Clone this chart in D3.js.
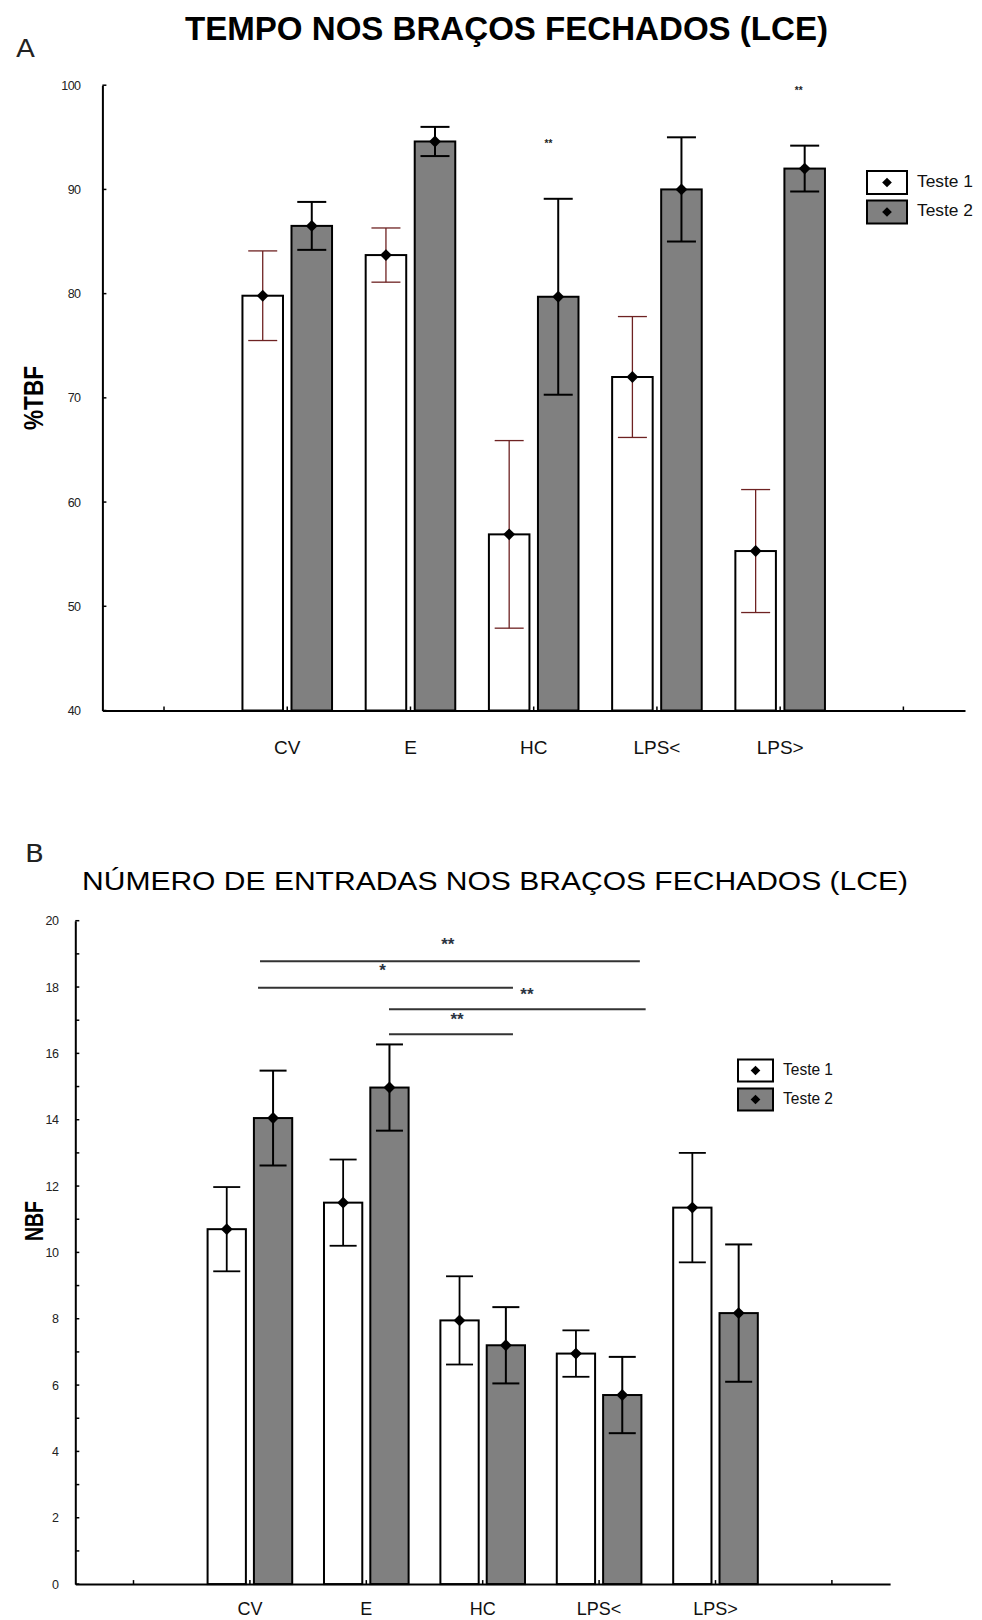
<!DOCTYPE html>
<html>
<head>
<meta charset="utf-8">
<script src="https://cdn.jsdelivr.net/npm/d3@7"></script>
<style>
  html, body { margin: 0; padding: 0; background: #fff; }
  svg { display: block; font-family: "Liberation Sans", Arial, sans-serif; }
</style>
</head>
<body>
<svg id="chart" width="982" height="1620"></svg>
<script>
// ---------------- DATA ----------------
const categories = ["CV", "E", "HC", "LPS<", "LPS>"];
const seriesNames = ["Teste 1", "Teste 2"];

// Panel A: % tempo nos braços fechados
const tbfTeste1 = [79.8, 83.7, 56.9, 72.0, 55.3];
const tbfTeste1Err = [4.3, 2.6, 9.0, 5.8, 5.9];
const tbfTeste2 = [86.5, 94.6, 79.7, 90.0, 92.0];
const tbfTeste2Err = [2.3, 1.4, 9.4, 5.0, 2.2];
const tbfTicks = [40, 50, 60, 70, 80, 90, 100];
// significance marks: [label, category position, value]
const tbfStars = [["**", 3.12, 94.3], ["**", 5.15, 99.4]];

// Panel B: número de entradas nos braços fechados
const nbfTeste1 = [10.7, 11.5, 7.95, 6.95, 11.35];
const nbfTeste1Err = [1.27, 1.3, 1.33, 0.7, 1.65];
const nbfTeste2 = [14.05, 14.97, 7.2, 5.7, 8.17];
const nbfTeste2Err = [1.43, 1.3, 1.15, 1.15, 2.07];
const nbfTicks = [0, 2, 4, 6, 8, 10, 12, 14, 16, 18, 20];
// comparison brackets: [x1 position, x2 position, value, label, labelX position, labelY value]
const nbfBrackets = [
  [1.087, 4.35, 18.78, "**", 2.70, 19.25],
  [1.07, 3.26, 17.98, "*", 2.14, 18.47],
  [2.195, 4.40, 17.33, "**", 3.38, 17.73],
  [2.195, 3.26, 16.58, "**", 2.78, 17.0]
];

// ---------------- DRAW ----------------
const svg = d3.select("#chart");

function panel(cfg) {
  const g = svg.append("g");
  const x = d3.scaleLinear().domain([-0.5, 6.5]).range(cfg.xRange);
  const y = d3.scaleLinear().domain(cfg.yDomain).range(cfg.yRange);
  const step = x(1) - x(0);
  const bw = 0.329 * step, gap = 0.069 * step;

  // titles
  g.append("text").attr("x", cfg.letterX).attr("y", cfg.letterY)
    .attr("font-size", 25).attr("fill", "#222")
    .style("font-family", "'DejaVu Sans', sans-serif")
    .attr("textLength", 19).attr("lengthAdjust", "spacingAndGlyphs")
    .text(cfg.letter);
  g.append("text").attr("x", cfg.titleX).attr("y", cfg.titleY)
    .attr("font-size", cfg.titleSize).attr("font-weight", cfg.titleWeight)
    .attr("textLength", cfg.titleLen).attr("lengthAdjust", "spacingAndGlyphs")
    .attr("fill", "#000").text(cfg.title);

  // bars
  const series = [
    {vals: cfg.s1, err: cfg.e1, fill: "#ffffff", errColor: cfg.err1Color, errW: cfg.err1W, off: -(gap / 2 + bw)},
    {vals: cfg.s2, err: cfg.e2, fill: "#808080", errColor: "#000", errW: cfg.err2W, off: gap / 2}
  ];
  const y0 = y(cfg.yDomain[0]);
  series.forEach(s => {
    const sg = g.append("g");
    sg.selectAll("rect").data(s.vals).join("rect")
      .attr("x", (d, i) => x(i + 1) + s.off)
      .attr("y", d => y(d))
      .attr("width", bw)
      .attr("height", d => y0 - y(d))
      .attr("fill", s.fill).attr("stroke", "#000").attr("stroke-width", 2);
    const cap = cfg.capW;
    s.vals.forEach((d, i) => {
      const cx = x(i + 1) + s.off + bw / 2;
      const eg = sg.append("g").attr("stroke", s.errColor).attr("stroke-width", s.errW);
      eg.append("line").attr("x1", cx).attr("x2", cx).attr("y1", y(d + s.err[i])).attr("y2", y(d - s.err[i]));
      eg.append("line").attr("x1", cx - cap / 2).attr("x2", cx + cap / 2).attr("y1", y(d + s.err[i])).attr("y2", y(d + s.err[i]));
      eg.append("line").attr("x1", cx - cap / 2).attr("x2", cx + cap / 2).attr("y1", y(d - s.err[i])).attr("y2", y(d - s.err[i]));
      sg.append("path").attr("d", d3.symbol(d3.symbolDiamond2, cfg.markerSize)())
        .attr("transform", `translate(${cx},${y(d)})`).attr("fill", "#000");
    });
  });

  // y axis
  const yAxis = d3.axisLeft(y).tickValues(cfg.yTicks).tickSize(0).tickPadding(cfg.tickPad);
  const ya = g.append("g").attr("transform", `translate(${cfg.xRange[0]},0)`).call(yAxis);
  ya.select(".domain").attr("stroke", "#000").attr("stroke-width", 2);
  ya.selectAll("text").attr("font-size", 12.5).attr("fill", "#222")
    .style("letter-spacing", "-0.6px");
  // inward minor ticks
  const minor = d3.range(cfg.yDomain[0], cfg.yDomain[1] + 0.001, cfg.minorStep);
  g.append("g").selectAll("line").data(minor).join("line")
    .attr("x1", cfg.xRange[0]).attr("x2", cfg.xRange[0] + 4)
    .attr("y1", d => y(d)).attr("y2", d => y(d)).attr("stroke", "#000").attr("stroke-width", 1.5);

  // x axis
  const xAxis = d3.axisBottom(x).tickValues([]).tickSize(0);
  const xa = g.append("g").attr("transform", `translate(0,${y0})`).call(xAxis);
  xa.select(".domain").attr("stroke", "#000").attr("stroke-width", 2);
  g.append("g").selectAll("line").data(d3.range(0, 7)).join("line")
    .attr("x1", d => x(d)).attr("x2", d => x(d)).attr("y1", y0).attr("y2", y0 - 4)
    .attr("stroke", "#000").attr("stroke-width", 1.5);
  g.append("g").selectAll("text").data(categories).join("text")
    .attr("x", (d, i) => x(i + 1)).attr("y", y0 + cfg.catDy)
    .attr("text-anchor", "middle").attr("font-size", cfg.catSize).attr("fill", "#111")
    .text(d => d);

  // y label
  g.append("text").attr("transform", `translate(${cfg.yLabX},${cfg.yLabY}) rotate(-90)`)
    .attr("text-anchor", "middle").attr("dominant-baseline", "middle")
    .attr("font-size", cfg.yLabSize).attr("font-weight", "bold")
    .attr("textLength", cfg.yLabLen).attr("lengthAdjust", "spacingAndGlyphs")
    .text(cfg.yLabel);

  // legend
  seriesNames.forEach((n, i) => {
    const ly = cfg.legY + i * cfg.legStep;
    g.append("rect").attr("x", cfg.legX).attr("y", ly).attr("width", cfg.legW).attr("height", cfg.legH)
      .attr("fill", i === 0 ? "#fff" : "#808080").attr("stroke", "#000").attr("stroke-width", 2);
    g.append("path").attr("d", d3.symbol(d3.symbolDiamond2, 60)())
      .attr("transform", `translate(${cfg.legX + cfg.legW / 2},${ly + cfg.legH / 2})`).attr("fill", "#000");
    g.append("text").attr("x", cfg.legX + cfg.legW + 10).attr("y", ly + cfg.legH / 2)
      .attr("dominant-baseline", "middle").attr("font-size", 17)
      .attr("textLength", cfg.legTextLen).attr("lengthAdjust", "spacingAndGlyphs")
      .attr("fill", "#111").text(n);
  });

  return {g, x, y};
}

// Panel A
const A = panel({
  letter: "A", letterX: 16, letterY: 57,
  title: "TEMPO NOS BRAÇOS FECHADOS (LCE)", titleX: 185, titleY: 40, titleSize: 34,
  titleWeight: "bold", titleLen: 643,
  xRange: [102.4, 965], yDomain: [40, 100], yRange: [710.5, 85.2],
  yTicks: tbfTicks, minorStep: 10, tickPad: 22,
  s1: tbfTeste1, e1: tbfTeste1Err, s2: tbfTeste2, e2: tbfTeste2Err,
  err1Color: "#6e2222", err1W: 1.3, err2W: 2, capW: 29, markerSize: 90,
  catDy: 43, catSize: 19, yLabel: "%TBF", yLabX: 36, yLabY: 398, yLabSize: 27, yLabLen: 64,
  legX: 867, legY: 171, legStep: 29.5, legW: 40, legH: 23, legTextLen: 56
});
A.g.append("g").selectAll("text").data(tbfStars).join("text")
  .attr("x", d => A.x(d[1])).attr("y", d => A.y(d[2]))
  .attr("text-anchor", "middle").attr("dominant-baseline", "middle")
  .attr("font-size", 10).attr("font-weight", "bold").attr("fill", "#222").text(d => d[0]);

// Panel B
const B = panel({
  letter: "B", letterX: 25, letterY: 862,
  title: "NÚMERO DE ENTRADAS NOS BRAÇOS FECHADOS (LCE)", titleX: 82, titleY: 890, titleSize: 26,
  titleWeight: "normal", titleLen: 826,
  xRange: [75.3, 890.1], yDomain: [0, 20], yRange: [1584.1, 920.7],
  yTicks: nbfTicks, minorStep: 1, tickPad: 17,
  s1: nbfTeste1, e1: nbfTeste1Err, s2: nbfTeste2, e2: nbfTeste2Err,
  err1Color: "#000", err1W: 1.8, err2W: 2, capW: 27, markerSize: 90,
  catDy: 31, catSize: 18, yLabel: "NBF", yLabX: 36, yLabY: 1221, yLabSize: 25, yLabLen: 40,
  legX: 738, legY: 1059.5, legStep: 29, legW: 35, legH: 22, legTextLen: 50
});
const br = B.g.append("g");
nbfBrackets.forEach(b => {
  br.append("line").attr("x1", B.x(b[0])).attr("x2", B.x(b[1]))
    .attr("y1", B.y(b[2])).attr("y2", B.y(b[2]))
    .attr("stroke", "#333").attr("stroke-width", 2);
  br.append("text").attr("x", B.x(b[4])).attr("y", B.y(b[5]))
    .attr("text-anchor", "middle").attr("dominant-baseline", "middle")
    .attr("font-size", 17).attr("font-weight", "bold").attr("fill", "#2b3340")
    .text(b[3]);
});
</script>
</body>
</html>
